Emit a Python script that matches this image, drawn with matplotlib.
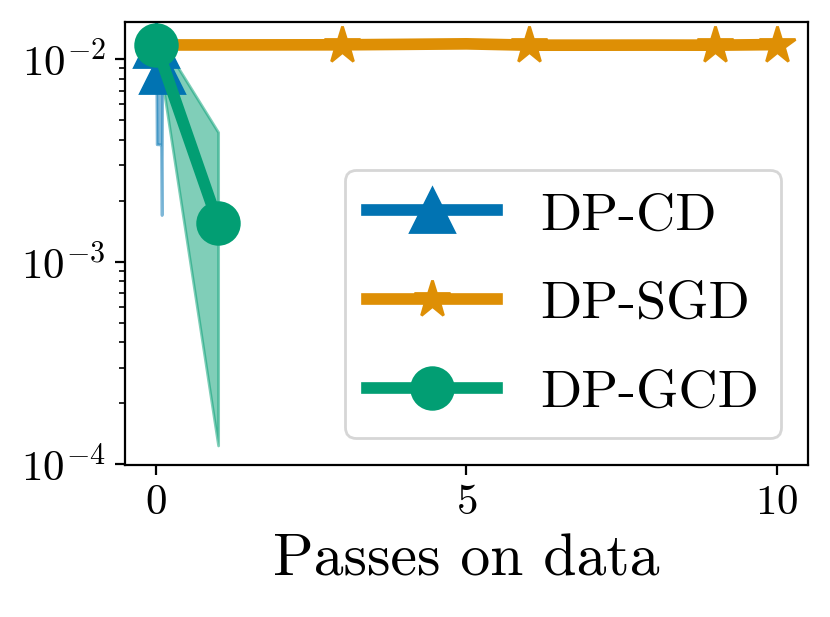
import numpy as np
import matplotlib
matplotlib.use("Agg")
import matplotlib.pyplot as plt

# Computer Modern look (no LaTeX available)
plt.rcParams['font.family'] = 'serif'
plt.rcParams['font.serif'] = ['cmr10']
plt.rcParams['mathtext.fontset'] = 'cm'
plt.rcParams['axes.formatter.use_mathtext'] = True

# colorblind palette
BLUE = '#0173B2'
ORANGE = '#DE8F05'
GREEN = '#029E73'

# DP-CD: fine-grained progress within the first pass
cd_x = [0.0, 0.01, 0.02, 0.03, 0.04, 0.05, 0.06, 0.07, 0.08, 0.09, 0.10]
cd_mean = [0.0118, 0.0112, 0.0107, 0.0103, 0.0100, 0.0097, 0.0095, 0.0093, 0.0091, 0.0089, 0.0087]
cd_low = [0.0116, 0.0038, 0.0038, 0.0038, 0.0038, 0.0038, 0.0038, 0.0038, 0.0037, 0.0017, 0.0085]
cd_high = [0.0120, 0.0118, 0.0115, 0.0112, 0.0110, 0.0107, 0.0105, 0.0102, 0.0100, 0.0098, 0.0095]

# DP-SGD: flat over ten passes
sgd_x = [0, 1, 2, 3, 4, 5, 6, 7, 8, 9, 10]
sgd_mean = [0.01175, 0.01175, 0.01176, 0.01177, 0.01183, 0.0119, 0.01172, 0.01172, 0.01173, 0.01172, 0.0118]
sgd_low = [0.01165, 0.01165, 0.01166, 0.01167, 0.01173, 0.0118, 0.01162, 0.01162, 0.01163, 0.01162, 0.0117]
sgd_high = [0.01185, 0.01185, 0.01186, 0.01187, 0.01193, 0.0120, 0.01182, 0.01182, 0.01183, 0.01182, 0.0119]

# DP-GCD: two points
gcd_x = [0, 1]
gcd_mean = [0.0118, 0.00155]
gcd_low = [0.0124, 0.000124]
gcd_high = [0.0136, 0.00436]

fig = plt.figure(figsize=(4.15, 3.085), dpi=200)
ax = fig.add_axes([0.1506, 0.2459, 0.8228, 0.7189])

lw = 4.2
ax.fill_between(cd_x, cd_low, cd_high, color=BLUE, alpha=0.5)
ax.plot(cd_x, cd_mean, color=BLUE, lw=lw, marker='^', markersize=16,
        markevery=[0, 10], label='DP-CD')

ax.fill_between(sgd_x, sgd_low, sgd_high, color=ORANGE, alpha=0.5)
ax.plot(sgd_x, sgd_mean, color=ORANGE, lw=lw, marker='*', markersize=14,
        markevery=[0, 3, 6, 9, 10], label='DP-SGD')

ax.fill_between(gcd_x, gcd_low, gcd_high, color=GREEN, alpha=0.5)
ax.plot(gcd_x, gcd_mean, color=GREEN, lw=lw, marker='o', markersize=15,
        label='DP-GCD')

ax.set_yscale('log')
ax.set_ylim(0.99e-4, 0.0153)
ax.set_xlim(-0.5, 10.5)
ax.set_xticks([0, 5, 10])
ax.tick_params(axis='both', which='major', labelsize=15.5)
ax.set_xlabel('Passes on data', fontsize=21.5)

ax.legend(loc='lower right', fontsize=19.5, handlelength=2.4,
          labelspacing=0.75)

fig.savefig('out.png', dpi=200)
